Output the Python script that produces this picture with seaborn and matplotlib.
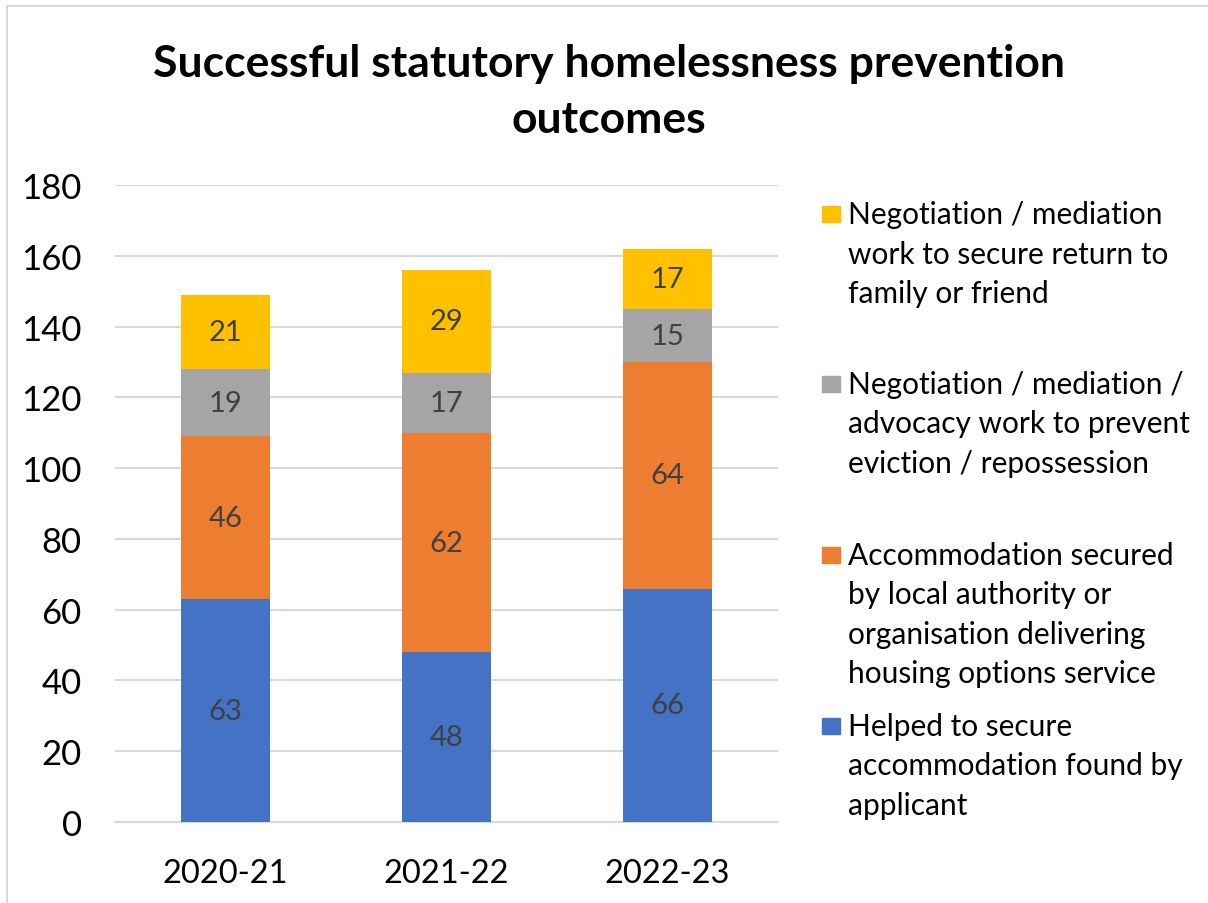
import matplotlib.pyplot as plt
import matplotlib.patches as mpatches
import seaborn as sns
import pandas as pd
import numpy as np


years = ['2020-21', '2021-22', '2022-23']
found_by_applicant = [63, 48, 66]
secured_by_authority = [46, 62, 64]
prevent_eviction = [19, 17, 15]
return_to_family = [21, 29, 17]

series_names = [
    'Helped to secure\naccommodation found by\napplicant',
    'Accommodation secured\nby local authority or\norganisation delivering\nhousing options service',
    'Negotiation / mediation /\nadvocacy work to prevent\neviction / repossession',
    'Negotiation / mediation\nwork to secure return to\nfamily or friend',
]
series_values = [found_by_applicant, secured_by_authority, prevent_eviction, return_to_family]
colors = ['#4472C4', '#ED7D31', '#A5A5A5', '#FFC000']

sns.set_theme(style="white")
plt.rcParams['font.family'] = ['Lato', 'DejaVu Sans']

fig = plt.figure(figsize=(12.08, 9.04), dpi=100)
ax = fig.add_axes([0.0952, 0.0896, 0.5488, 0.7044])

# stacked bars: draw cumulative totals from the top down
vals = np.array(series_values, dtype=float)
cum = np.cumsum(vals, axis=0)
for i in range(len(series_values) - 1, -1, -1):
    df = pd.DataFrame({'year': years, 'value': cum[i]})
    sns.barplot(data=df, x='year', y='value', color=colors[i], width=0.4,
                saturation=1, linewidth=0, ax=ax, zorder=3)

# segment labels
for i in range(len(series_values)):
    for j in range(len(years)):
        mid = cum[i][j] - vals[i][j] / 2
        ax.text(j, mid, f"{int(vals[i][j])}", ha='center', va='center',
                fontsize=21, color='#404040', zorder=4)

ax.set_xlim(-0.5, 2.5)
ax.set_ylim(0, 180)
ax.set_yticks(range(0, 181, 20))
ax.yaxis.grid(True, color='#D9D9D9', linewidth=1.5, zorder=0)
ax.set_axisbelow(True)
for side in ['left', 'right', 'top']:
    ax.spines[side].set_visible(False)
ax.spines['bottom'].set_color('#D9D9D9')
ax.spines['bottom'].set_linewidth(1.5)
ax.set_xlabel('')
ax.set_ylabel('')
ax.tick_params(axis='y', labelsize=25, labelcolor='black', length=0, pad=24)
ax.tick_params(axis='x', labelsize=23.5, labelcolor='black', length=0, pad=26)

fig.suptitle('Successful statutory homelessness prevention\noutcomes',
             x=0.504, y=0.951, fontsize=32, fontweight='bold', color='black',
             linespacing=1.48)

# legend, top entry first (reverse of stack order)
legend_tops = [215, 385, 556, 727]
for k, i in enumerate(range(len(series_names) - 1, -1, -1)):
    ytop = 1 - legend_tops[k] / 904
    fig.patches.append(mpatches.Rectangle((822 / 1208, ytop - 8 / 904), 18 / 1208, 16 / 904,
                                          transform=fig.transFigure, color=colors[i]))
    fig.text(848 / 1208, ytop + 14 / 904, series_names[i], ha='left', va='top',
             fontsize=21.5, color='black', linespacing=1.5)

# chart frame
fig.patches.append(mpatches.Rectangle((7 / 1208, -0.1), 1.2, 1.1 - 7 / 904,
                                      transform=fig.transFigure, fill=False,
                                      edgecolor='#D9D9D9', linewidth=1.5))

plt.savefig('out.png', dpi=100)
plt.close()
